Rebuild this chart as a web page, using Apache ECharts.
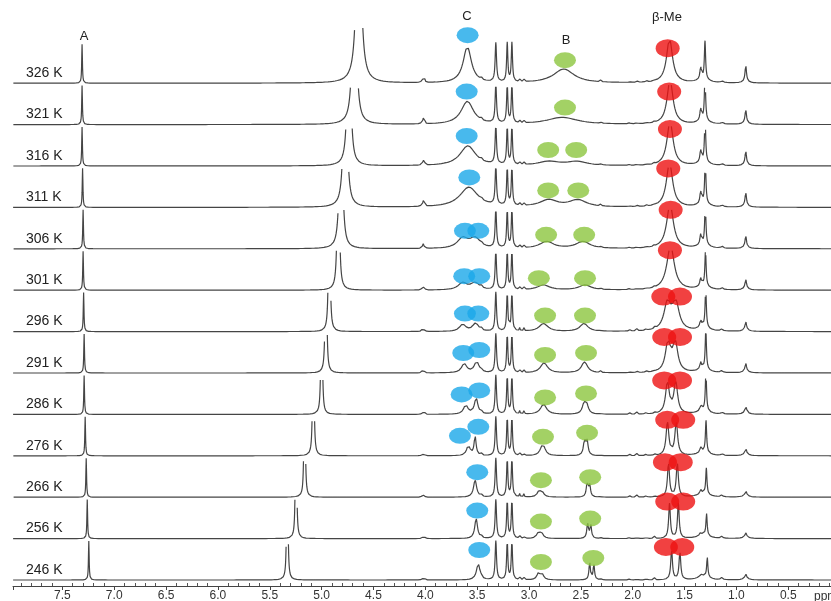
<!DOCTYPE html>
<html>
<head>
<meta charset="utf-8">
<script src="https://cdn.jsdelivr.net/npm/echarts@6/dist/echarts.min.js"></script>
<style>
  html, body { margin: 0; padding: 0; background: #fff; }
  #chart { width: 831px; height: 601px; }
</style>
</head>
<body>
<div id="chart"></div>
<script>
// Variable-temperature 1H NMR stack, top row = hottest
const temps = ['326 K', '321 K', '316 K', '311 K', '306 K', '301 K', '296 K',
               '291 K', '286 K', '276 K', '266 K', '256 K', '246 K']

// peak A (aromatic singlet), ppm per row
const peakA = [7.31, 7.31, 7.31, 7.305, 7.30, 7.30, 7.295, 7.29, 7.29, 7.28, 7.27, 7.26, 7.245]

// exchangeable (water/OH) peak: ppm and half-width per row
const waterPpm   = [4.642, 4.684, 4.736, 4.772, 4.813, 4.839, 4.926, 4.958, 5.0, 5.08, 5.164, 5.247, 5.331]
const waterGamma = [0.021, 0.016, 0.013, 0.014, 0.012, 0.008, 0.006, 0.0055, 0.005, 0.005, 0.0045, 0.0045, 0.0045]

// small quartet at 4.02, height per row
const q402 = [5, 5, 5, 5, 4, 3, 3, 3, 2.5, 2, 2, 2, 2]

// peaks present in every row: [ppm, height, half-width]
const fixedPeaks = [
  [3.32, 39, 0.008], [3.21, 39, 0.007], [3.165, 39, 0.007],
  [3.09, 3, 0.004], [3.05, 3, 0.004], [3.46, 2, 0.006],
  [2.31, 1.5, 0.005], [2.03, 1.5, 0.005], [1.96, 2, 0.005], [1.87, 2, 0.005],
  [1.79, 2, 0.005], [1.14, 2, 0.01], [1.32, 4, 0.06], [0.91, 2, 0.03],
]

// C signal per row: [ppm, height, half-width]
const peakC = [
  [[3.595, 36, 0.048]],
  [[3.595, 23, 0.072]],
  [[3.59, 20, 0.09]],
  [[3.58, 20, 0.105]],
  [[3.64, 10, 0.06], [3.52, 10, 0.06]],
  [[3.64, 7, 0.05], [3.52, 7, 0.05]],
  [[3.64, 7, 0.035], [3.515, 8, 0.035]],
  [[3.625, 9, 0.03], [3.505, 11, 0.028]],
  [[3.61, 9, 0.025], [3.51, 16, 0.02]],
  [[3.585, 10, 0.02], [3.52, 19, 0.012]],
  [[3.52, 17, 0.018]],
  [[3.51, 20, 0.016]],
  [[3.49, 16, 0.02]],
]

// B signal per row
const peakB = [
  [[2.665, 14, 0.12]],
  [[2.68, 7, 0.18]],
  [[2.81, 4, 0.12], [2.54, 4, 0.12]],
  [[2.81, 7, 0.1], [2.53, 7, 0.1]],
  [[2.83, 7, 0.08], [2.48, 7, 0.08]],
  [[2.86, 5, 0.07], [2.46, 5, 0.07]],
  [[2.86, 8, 0.05], [2.47, 8, 0.045]],
  [[2.855, 10, 0.04], [2.465, 11, 0.035]],
  [[2.86, 10, 0.035], [2.47, 9, 0.02], [2.445, 9, 0.02]],
  [[2.875, 6, 0.025], [2.86, 6, 0.025], [2.465, 15, 0.012], [2.44, 14, 0.012]],
  [[2.905, 5, 0.02], [2.875, 5, 0.02], [2.44, 13, 0.01], [2.415, 12, 0.01]],
  [[2.91, 5, 0.02], [2.88, 5, 0.02], [2.435, 15, 0.009], [2.405, 14, 0.009]],
  [[2.91, 6, 0.018], [2.875, 6, 0.018], [2.415, 18, 0.008], [2.375, 16, 0.008]],
]

// beta-Me signal per row
const peakMe = [
  [[1.645, 44, 0.035]],
  [[1.64, 44, 0.035]],
  [[1.64, 44, 0.036]],
  [[1.645, 44, 0.037]],
  [[1.64, 44, 0.04]],
  [[1.635, 44, 0.044]],
  [[1.665, 27, 0.04], [1.585, 27, 0.04]],
  [[1.66, 29, 0.03], [1.59, 29, 0.03]],
  [[1.665, 31, 0.022], [1.585, 31, 0.022]],
  [[1.665, 33, 0.016], [1.58, 33, 0.016]],
  [[1.655, 34, 0.012], [1.57, 34, 0.012]],
  [[1.645, 35, 0.01], [1.56, 35, 0.01]],
  [[1.625, 30, 0.01], [1.545, 28, 0.01]],
]

// 1.30 multiplet, 1.35 shoulder and 0.91 peak heights per row
const ppm130 = [1.303, 1.303, 1.302, 1.30, 1.30, 1.298, 1.296, 1.295, 1.294, 1.293, 1.29, 1.288, 1.281]
const h130   = [38, 45, 45, 45, 42, 36, 40, 40, 40, 32, 26, 22, 20]
const h135   = [12, 12, 12, 12, 10, 8, 8, 7, 6, 5, 4, 3, 3]
const h091   = [16, 13, 13, 13, 11, 9, 8, 8, 7, 6, 5, 4, 4]

// coloured markers: [ppm, height above baseline]
const markC = [
  [[3.592, 48]], [[3.601, 33]], [[3.601, 30]], [[3.576, 30]],
  [[3.618, 18], [3.489, 18]], [[3.625, 14], [3.48, 14]], [[3.618, 18], [3.489, 18]],
  [[3.634, 20], [3.48, 23]], [[3.65, 20], [3.48, 24]], [[3.666, 20], [3.489, 29]],
  [[3.499, 25]], [[3.499, 28]], [[3.48, 30]],
]
const markB = [
  [[2.653, 23]], [[2.653, 17]], [[2.815, 16], [2.545, 16]], [[2.815, 17], [2.525, 17]],
  [[2.835, 14], [2.468, 14]], [[2.905, 12], [2.46, 12]], [[2.845, 16], [2.46, 16]],
  [[2.845, 18], [2.45, 20]], [[2.845, 17], [2.45, 21]], [[2.865, 19], [2.44, 23]],
  [[2.885, 17], [2.41, 20]], [[2.885, 17], [2.41, 20]], [[2.885, 18], [2.38, 22]],
]
const markMe = [
  [[1.663, 35]], [[1.648, 33]], [[1.641, 37]], [[1.657, 39]], [[1.634, 39]], [[1.641, 40]],
  [[1.705, 35], [1.544, 35]], [[1.696, 36], [1.544, 36]], [[1.696, 34], [1.544, 34]],
  [[1.667, 36], [1.513, 36]], [[1.689, 35], [1.537, 35]], [[1.667, 37], [1.513, 37]],
  [[1.68, 33], [1.522, 33]],
]

const ROW_STEP = 41.4
const N = temps.length
const X_MAX = 7.976
const baseOf = k => 6 + (N - 1 - k) * ROW_STEP

function peaksOf(k) {
  return [
    ...fixedPeaks,
    [peakA[k], 39, 0.004],
    [waterPpm[k], 250, waterGamma[k]],
    [4.035, q402[k] * 0.6, 0.005], [4.02, q402[k], 0.005], [4.005, q402[k] * 0.6, 0.005],
    ...peakC[k], ...peakB[k], ...peakMe[k],
    [ppm130[k], h130[k], 0.007], [1.345, h135[k], 0.008],
    [0.91, h091[k], 0.008],
  ]
}

function trace(k) {
  const peaks = peaksOf(k)
  const base = baseOf(k)
  const clip = k === 0 ? 56 : 40
  const out = []
  for (let i = 0; i <= Math.round(X_MAX / 0.0025); i++) {
    const x = i * 0.0025
    let y = 0
    for (const [p, h, g] of peaks) y += h * g * g / ((x - p) * (x - p) + g * g)
    out.push([x, y > clip ? null : base + y])
  }
  return out
}

function marks(list) {
  const out = []
  list.forEach((row, k) => row.forEach(([p, h]) => out.push([p, baseOf(k) + h])))
  return out
}

const chart = echarts.init(document.getElementById('chart'))
const font = '"Liberation Sans", Arial, sans-serif'

const series = temps.map((t, k) => ({
  name: t, type: 'line', data: trace(k), symbol: 'none', silent: true,
  lineStyle: { color: '#454545', width: 1.2 }, z: 2,
}))
series.push(
  { type: 'scatter', data: marks(markC), symbol: 'circle', symbolSize: [22, 16],
    itemStyle: { color: '#1aa8e8' }, silent: true, z: 5 },
  { type: 'scatter', data: marks(markB), symbol: 'circle', symbolSize: [22, 16],
    itemStyle: { color: '#8cc63f' }, silent: true, z: 5 },
  { type: 'scatter', data: marks(markMe), symbol: 'circle', symbolSize: [24, 18],
    itemStyle: { color: '#ee1111' }, silent: true, z: 5 },
)

const textEl = (text, x, y, align, size) => ({
  type: 'text', x, y, silent: true,
  style: { text, fill: '#222', font: (size || 13) + 'px ' + font,
           textAlign: align || 'center', textVerticalAlign: 'middle' },
})

const graphics = temps.map((t, k) => textEl(t, 26, 586 - baseOf(k) - 10, 'left', 14))
graphics.push(
  textEl('A', 84, 36), textEl('C', 467, 16), textEl('B', 566, 40), textEl('β-Me', 667, 17),
  { type: 'text', x: 814, y: 597, silent: true,
    style: { text: 'ppm', fill: '#333', font: '12px ' + font, textVerticalAlign: 'middle' } },
)

chart.setOption({
  animation: false,
  backgroundColor: '#fff',
  grid: { left: 13, width: X_MAX * 103.7, top: 0, bottom: 15,
          containLabel: false, outerBoundsMode: 'none' },
  xAxis: {
    type: 'value', inverse: true, min: 0, max: X_MAX, interval: 0.5,
    axisLine: { lineStyle: { color: '#444', width: 1 } },
    axisTick: { show: true, length: 4, lineStyle: { color: '#444' } },
    minorTick: { show: true, splitNumber: 5, length: -3, lineStyle: { color: '#555' } },
    splitLine: { show: false },
    axisLabel: {
      color: '#333', fontSize: 12, fontFamily: font, margin: 4,
      formatter: v => {
        const q = v / 0.5
        return (Math.abs(q - Math.round(q)) < 1e-6 && v > 0.25 && v < 7.9) ? v.toFixed(1) : ''
      },
    },
  },
  yAxis: { type: 'value', min: 0, max: 586, show: false },
  series,
  graphic: graphics,
})
</script>
</body>
</html>
